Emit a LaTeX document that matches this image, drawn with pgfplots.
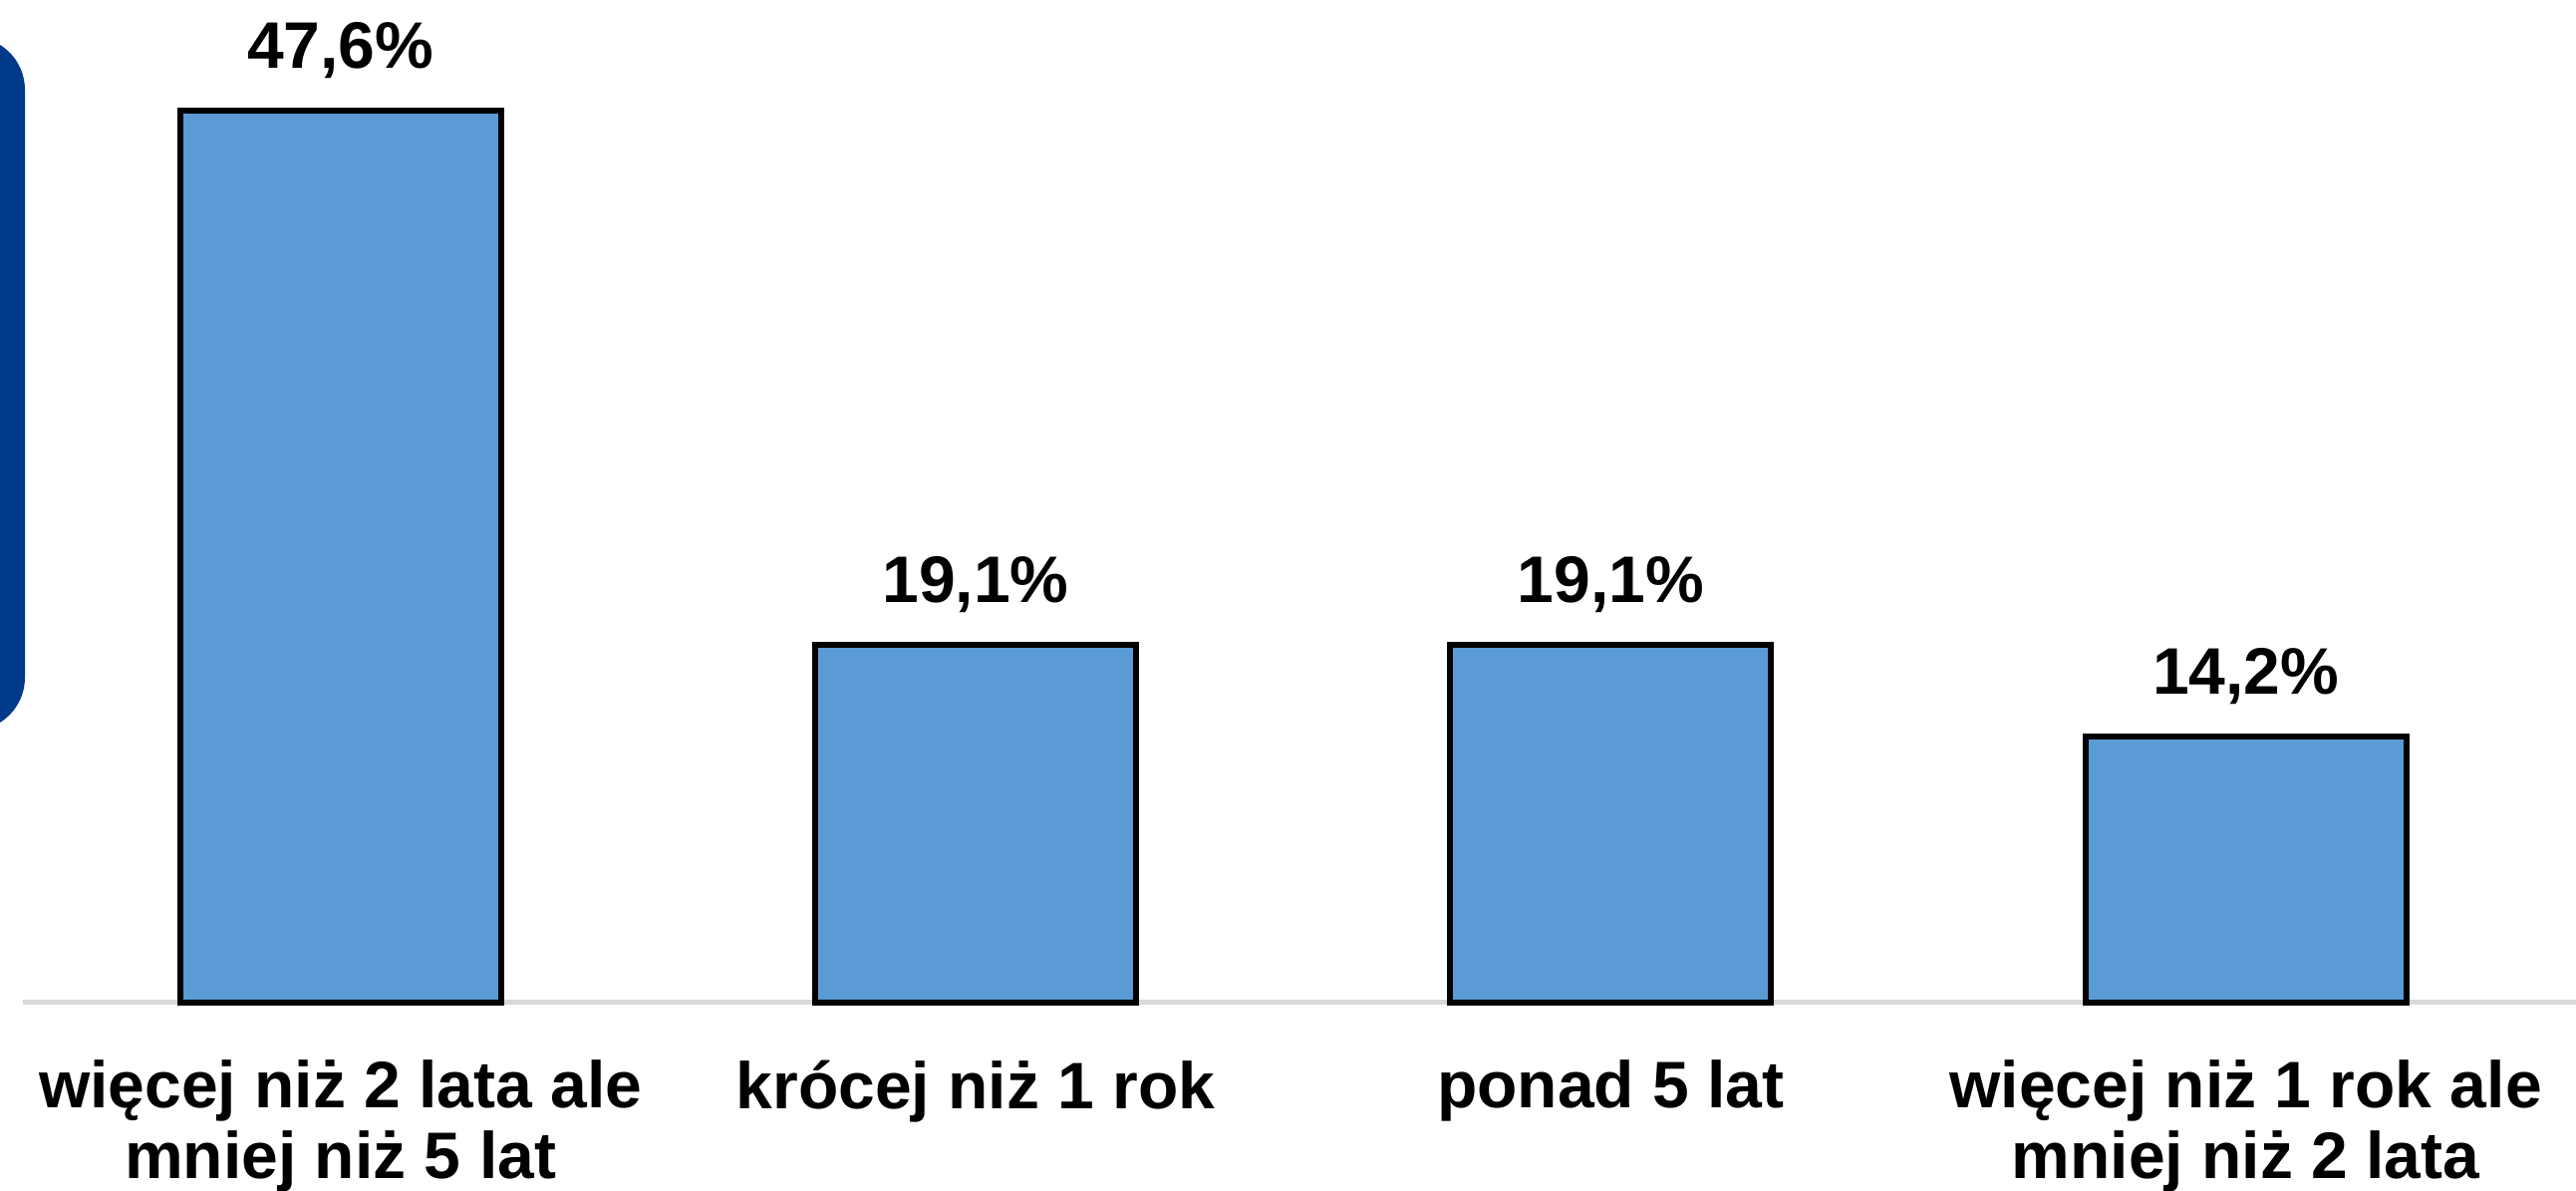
\documentclass[border=0pt]{standalone}
\usepackage{fontspec}
\setmainfont{Liberation Sans}
\usepackage{pgfplots}
\pgfplotsset{compat=1.18}
\usetikzlibrary{calc}
\definecolor{barblue}{RGB}{91,155,213}
\definecolor{darkblue}{RGB}{0,56,138}
\definecolor{basegray}{RGB}{217,217,217}
\begin{document}
\begin{tikzpicture}
\begin{axis}[
  name=ax,
  scale only axis,
  width=640.5pt, height=251.5pt,
  xmin=-0.5, xmax=3.52, ymin=0, ymax=53.5,
  axis x line=bottom, axis y line=none,
  x axis line style={draw=basegray, line width=1.25pt, -},
  ytick=\empty,
  xtick={0,1,2,3},
  xticklabels={{więcej niż 2 lata ale\\mniej niż 5 lat}, krócej niż 1 rok, ponad 5 lat, {więcej niż 1 rok ale\\mniej niż 2 lata}},
  major tick length=0pt,
  xticklabel style={align=center, font=\fontsize{16.5}{17.75}\selectfont\bfseries, anchor=north, yshift=-11pt},
  ybar, bar width=80.5pt,
  clip=false,
  nodes near coords={\pgfmathprintnumber[fixed,fixed zerofill,precision=1,use comma,assume math mode=true]{\pgfplotspointmeta}\%},
  every node near coord/.append style={anchor=base, yshift=10.5pt, font=\fontsize{16.5}{18.75}\selectfont\bfseries, text=black},
]
\addplot[fill=barblue, draw=black, line width=1.5pt] coordinates {(0,47.6) (1,19.1) (2,19.1) (3,14.2)};
\coordinate (sw) at (rel axis cs:0,0);
\coordinate (ne) at (rel axis cs:1,1);
\end{axis}
\fill[darkblue, rounded corners=13.25pt] let \p1=(sw), \p2=(ne) in (\x1-40pt,\y2-9.25pt) rectangle (\x1+0.5pt,\y2-183.25pt);
\pgfresetboundingbox
\path[use as bounding box] let \p1=(sw), \p2=(ne) in (\x1-5.75pt,\y1-47.25pt) rectangle (\x2,\y2);
\end{tikzpicture}
\end{document}
